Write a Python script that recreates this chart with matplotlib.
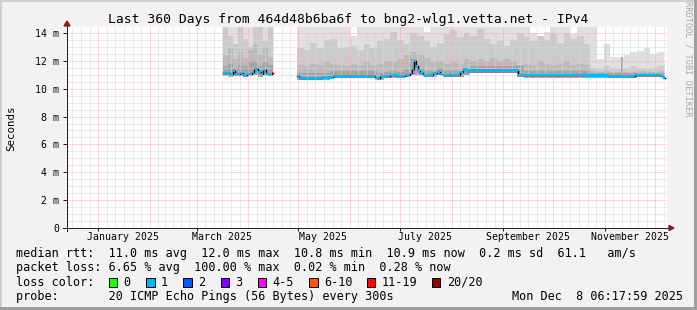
import numpy as np
import matplotlib.pyplot as plt
from matplotlib.patches import Rectangle, Polygon
from datetime import datetime, timedelta

plt.rcParams['font.family'] = 'DejaVu Sans Mono'

# graph window: last 360 days up to render time
t_end = datetime(2025, 12, 8, 6, 17, 59)
t_start = t_end - timedelta(days=360)

title = 'Last 360 Days from 464d48b6ba6f to bng2-wlg1.vetta.net - IPv4'

# smoke, block 1 (mid March - mid April), 3 day bins, days since t_start, values in ms
b1_edges = np.arange(93.8, 124.0, 3.0)
b1_min = [10.9, 10.85, 10.9, 10.9, 10.85, 10.95, 11.0, 10.85, 10.95, 10.9]
b1_lo = [11.6, 11.8, 11.5, 11.7, 11.6, 11.9, 12.0, 11.6, 11.9, 11.7]
b1_mid = [12.4, 12.9, 12.1, 12.6, 12.2, 12.8, 13.2, 12.5, 13.0, 12.3]
b1_hi = [14.5, 13.8, 13.2, 14.5, 13.6, 13.0, 14.5, 14.5, 13.4, 14.5]
b1_max = [15, 15, 15, 15, 15, 15, 15, 15, 15, 15]

# smoke, block 2 (end of April - now), 4 day bins
b2_edges = np.append(np.arange(138, 359, 4), 359)
b2_min = [10.65, 10.65, 10.65, 10.65, 10.65, 10.78, 10.78, 10.78, 10.78, 10.78,
          10.78, 10.78, 10.62, 10.75, 10.8, 10.75, 10.82, 10.95, 10.95, 10.85,
          10.85, 11.0, 10.85, 10.85, 10.85, 11.0, 11.12, 11.12, 11.12, 11.12,
          11.12, 11.12, 11.12, 10.85, 10.8, 10.8, 10.8, 10.8, 10.8, 10.8,
          10.8, 10.8, 10.8, 10.8, 10.75, 10.75, 10.75, 10.75, 10.75, 10.75,
          10.75, 10.83, 10.83, 10.83, 10.83, 10.68]
b2_lo = [11.1, 11.1, 11.1, 11.1, 11.15, 11.25, 11.25, 11.25, 11.25, 11.25,
         11.25, 11.25, 11.1, 11.2, 11.3, 11.2, 11.35, 12.1, 11.5, 11.3,
         11.3, 11.5, 11.3, 11.3, 11.3, 11.5, 11.6, 11.6, 11.6, 11.6,
         11.6, 11.6, 11.6, 11.6, 11.25, 11.25, 11.25, 11.25, 11.25, 11.25,
         11.25, 11.25, 11.25, 11.25, 11.1, 11.1, 11.1, 11.1, 11.1, 11.1,
         11.1, 11.15, 11.15, 11.15, 11.15, 11.0]
b2_mid = [11.7, 11.6, 11.8, 11.7, 11.9, 11.8, 11.7, 11.6, 11.8, 11.7,
          11.9, 11.7, 11.8, 12.0, 11.9, 12.1, 12.4, 12.6, 12.5, 12.2,
          11.9, 12.0, 11.8, 11.9, 11.8, 12.1, 12.0, 12.1, 12.0, 12.2,
          12.0, 12.1, 12.0, 11.7, 11.8, 11.7, 11.9, 11.8, 11.7, 11.8,
          11.9, 11.7, 11.8, 11.7, 11.25, 11.2, 11.3, 11.2, 11.2, 11.2,
          11.2, 11.3, 11.25, 11.2, 11.3, 11.1]
b2_hi = [12.9, 12.8, 13.3, 12.9, 13.5, 13.6, 12.9, 13.0, 13.1, 12.8,
         13.2, 12.9, 13.4, 13.6, 14.1, 13.5, 13.2, 14.0, 13.8, 13.4,
         13.0, 13.3, 13.9, 14.2, 13.7, 14.0, 13.8, 14.3, 13.6, 13.2,
         13.4, 13.1, 13.5, 14.0, 13.7, 13.4, 13.8, 13.5, 13.9, 13.3,
         14.0, 13.6, 13.8, 13.2, 11.5, 11.4, 11.6, 11.5, 11.4, 11.5,
         11.6, 11.5, 11.4, 11.5, 11.6, 11.3]
b2_max = [15, 15, 15, 15, 15, 15, 15, 15, 13.8, 15,
          15, 15, 15, 15, 15, 15, 15, 15, 15, 14.1,
          15, 15, 15, 15, 15, 15, 15, 15, 15, 15,
          15, 15, 15, 15, 15, 14.0, 13.7, 14.1, 15, 15,
          15, 13.9, 15, 15, 14.5, 12.1, 13.2, 12.3, 12.3, 12.4,
          12.6, 12.7, 12.9, 12.5, 12.6, 11.8]

# single dark outlier column in november
spike_day = [333.0]
spike_lo = [11.0]
spike_hi = [12.3]

# median rtt steps (edges in days, values in ms) and lost pings per step
b1_med_days = [93.8, 97.8, 99.4, 100.8, 103.8, 105.8, 107.8, 110.8, 112.4, 114.8,
               116.2, 117.8, 119.4, 122.8, 123.8]
b1_med = [11.10, 11.03, 11.30, 11.05, 11.15, 10.98, 11.05, 11.22, 11.41, 11.22,
          11.03, 11.34, 11.05, 11.15]
b1_loss = [1, 1, 1, 1, 1, 1, 1, 1, 1, 1, 1, 1, 1, 15]

b2_med_days = [138.0, 139.0, 153.8, 159.8, 180.8, 184.8, 187.8, 193.8, 197.8, 202.8,
               205.8, 207.0, 208.4, 209.4, 210.6, 211.8, 213.8, 219.8, 221.8, 223.8,
               225.8, 235.8, 237.8, 239.8, 270.8, 310.8, 324.8, 340.8, 355.8, 357.8, 359.0]
b2_med = [10.88, 10.79, 10.81, 10.93, 10.90, 10.76, 10.90, 10.98, 10.88, 10.98,
          11.15, 11.45, 11.98, 11.60, 11.30, 11.10, 10.98, 11.15, 11.22, 11.03,
          10.98, 11.22, 11.38, 11.30, 10.97, 10.95, 10.90, 11.00, 10.92, 10.80]
b2_loss = [1] * 30

loss_labels = ['0', '1', '2', '3', '4-5', '6-10', '11-19', '20/20']
loss_upper = [0, 1, 2, 3, 5, 10, 19, 20]
loss_colors = ['#26ff00', '#00b8ff', '#0059ff', '#7e00ff', '#ff00ff', '#ff5500', '#ff0000', '#a10000']

month_num = [1, 3, 5, 7, 9, 11]
month_names = ['January 2025', 'March 2025', 'May 2025', 'July 2025', 'September 2025', 'November 2025']

rtt_line = 'median rtt:  11.0 ms avg  12.0 ms max  10.8 ms min  10.9 ms now  0.2 ms sd  61.1   am/s'
loss_line = 'packet loss: 6.65 % avg  100.00 % max  0.02 % min  0.28 % now'
probe_line = 'probe:       20 ICMP Echo Pings (56 Bytes) every 300s'
stamp = 'Mon Dec  8 06:17:59 2025'


def day(dt):
    return (dt - t_start).total_seconds() / 86400.0


def loss_color(n):
    for up, c in zip(loss_upper, loss_colors):
        if n <= up:
            return c
    return loss_colors[-1]


W, H = 697, 310
PX = 13.93  # px per ms

fig = plt.figure(figsize=(W / 100, H / 100), dpi=100)
fig.patch.set_facecolor('#f2f2f2')
ft = fig.transFigure
fig.add_artist(Rectangle((0, 0), 2 / W, 1, transform=ft, color='#cfcfcf', lw=0))
fig.add_artist(Rectangle((0, 1 - 2 / H), 1, 2 / H, transform=ft, color='#cfcfcf', lw=0))
fig.add_artist(Rectangle((1 - 3 / W, 0), 3 / W, 1, transform=ft, color='#9e9e9e', lw=0))
fig.add_artist(Rectangle((0, 0), 1, 3 / H, transform=ft, color='#9e9e9e', lw=0))

ax = fig.add_axes([67 / W, 1 - 228 / H, 600 / W, 201 / H])
ax.set_xlim(0, 360)
ax.set_ylim(0, 201 / PX)
ax.set_facecolor('white')
for sp in ax.spines.values():
    sp.set_visible(False)

# grid (drawn over the smoke like rrdtool does)
grid_kw = dict(lw=0.72, ls=(0, (1, 1)), zorder=3)
major_c, minor_c = '#f3b0b0', '#d6d6d6'
for v in np.arange(0.5, 14.5, 0.5):
    ax.axhline(v, color=major_c if v % 2 == 0 else minor_c, **grid_kw)
months = [datetime(2024, 12, 1)] + [datetime(2025, m, 1) for m in range(1, 13)] + [datetime(2026, 1, 1)]
for a, b in zip(months[:-1], months[1:]):
    for k in range(6):
        d = day(a + (b - a) * k / 6)
        if 0 < d < 360:
            ax.axvline(d, color=major_c if k == 0 else minor_c, **grid_kw)

# smoke
shades = ['#e0e0e0', '#cbcbcb', '#bababa', '#a4a4a4']


def smoke(edges, bottom, layers):
    bot = np.append(bottom, bottom[-1])
    for top, c in zip(layers, shades):
        ax.fill_between(edges, bot, np.append(top, top[-1]), step='post',
                        color=c, lw=0, zorder=1)


smoke(b1_edges, b1_min, [b1_max, b1_hi, b1_mid, b1_lo])
smoke(b2_edges, b2_min, [b2_max, b2_hi, b2_mid, b2_lo])
ax.vlines(spike_day, spike_lo, spike_hi, color='#a0a0a0', lw=1.4, zorder=2)


def median(edges, vals, loss):
    ax.step(edges, np.append(vals, vals[-1]), where='post', color='black', lw=1.0, zorder=4)
    for i in range(len(vals)):
        ax.fill_between([edges[i], edges[i + 1]], vals[i] - 0.08, vals[i] + 0.08,
                        color=loss_color(loss[i]), lw=0, zorder=5)


median(b1_med_days, b1_med, b1_loss)
median(b2_med_days, b2_med, b2_loss)

# axes, ticks, arrows
ax.set_yticks(np.arange(0, 15, 2))
ax.set_yticklabels(['0'] + [f'{v} m' for v in range(2, 15, 2)])
ax.tick_params(axis='y', length=3, width=0.72, pad=2.5, labelsize=7.1, color='#1f1f1f')
ax.set_xticks([day(datetime(2025, m, 1) + timedelta(days=15)) for m in month_num], month_names)
ax.tick_params(axis='x', which='major', length=0, pad=3, labelsize=7.1)
ax.set_xticks([day(datetime(2025, m, 1)) for m in month_num], minor=True)
ax.tick_params(axis='x', which='minor', length=2.2, width=0.72, color='#1f1f1f')

ta = ax.transAxes
ax.plot([-4 / 600, 602 / 600], [0, 0], transform=ta, color='#1f1f1f', lw=0.72,
        clip_on=False, zorder=6, antialiased=False)
ax.plot([0, 0], [-3 / 201, 202 / 201], transform=ta, color='#1f1f1f', lw=0.72,
        clip_on=False, zorder=6, antialiased=False)
ax.add_patch(Polygon([(602 / 600, -2.5 / 201), (607 / 600, 0), (602 / 600, 2.5 / 201)],
                     closed=True, transform=ta, color='#801f1f', clip_on=False, zorder=7))
ax.add_patch(Polygon([(-3 / 600, 202 / 201), (0, 207 / 201), (3 / 600, 202 / 201)],
                     closed=True, transform=ta, color='#801f1f', clip_on=False, zorder=7))

# texts
fig.text(0.5, 1 - 19 / H, title, ha='center', va='center', fontsize=9.4)
fig.text(11 / W, 1 - 128 / H, 'Seconds', rotation=90, ha='center', va='center', fontsize=7.8)
fig.text(688 / W, 1 - 59 / H, 'RRDTOOL / TOBI OETIKER', rotation=270, ha='center',
         va='center', fontsize=6.2, color='#a8a8a8')

fs = 8.5
fig.text(15.6 / W, 1 - 254 / H, rtt_line, va='center', fontsize=fs)
fig.text(15.6 / W, 1 - 268 / H, loss_line, va='center', fontsize=fs)
fig.text(15.6 / W, 1 - 282 / H, 'loss color:', va='center', fontsize=fs)
fig.text(15.6 / W, 1 - 296.5 / H, probe_line, va='center', fontsize=fs)
fig.text(683 / W, 1 - 296.5 / H, stamp, va='center', ha='right', fontsize=fs)

box_x = [108.5, 146, 183, 220.5, 257.6, 309, 367, 432]
for x, lab, c in zip(box_x, loss_labels, loss_colors):
    fig.add_artist(Rectangle((x / W, 1 - 286.5 / H), 8.5 / W, 8.5 / H, transform=ft,
                             facecolor=c, edgecolor='black', lw=0.72))
    fig.text((x + 15) / W, 1 - 282 / H, lab, va='center', fontsize=fs)

fig.savefig('out.png', dpi=100)
